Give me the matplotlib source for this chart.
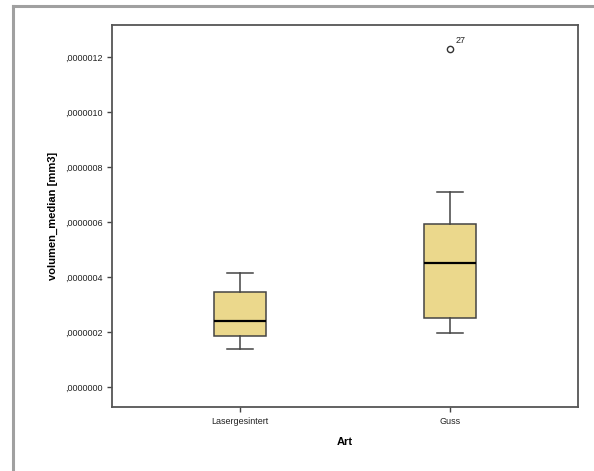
import matplotlib.pyplot as plt
from matplotlib.lines import Line2D

plt.rcParams['font.family'] = ['Liberation Sans', 'DejaVu Sans']

# values (in mm3)
categories = ["Lasergesintert", "Guss"]
whisker_low = [0.138e-6, 0.196e-6]
q1 = [0.1855e-6, 0.251e-6]
median = [0.240e-6, 0.451e-6]
q3 = [0.345e-6, 0.593e-6]
whisker_high = [0.4145e-6, 0.709e-6]
outliers = [[], [1.229e-6]]
outlier_ids = [[], ["27"]]

y_ticks = [0.0, 0.2e-6, 0.4e-6, 0.6e-6, 0.8e-6, 1.0e-6, 1.2e-6]
y_tick_labels = [",0000000", ",0000002", ",0000004", ",0000006", ",0000008", ",0000010", ",0000012"]

fig = plt.figure(figsize=(5.94, 4.71), dpi=100)
ax = fig.add_axes([112/594, 1 - 407/471, 466/594, 382/471])

stats = []
for i, name in enumerate(categories):
    stats.append({"label": name, "whislo": whisker_low[i], "q1": q1[i], "med": median[i],
                  "q3": q3[i], "whishi": whisker_high[i], "fliers": outliers[i]})

positions = list(range(1, len(categories) + 1))
ax.bxp(stats, positions=positions, widths=0.252, capwidths=0.124, patch_artist=True,
       boxprops=dict(facecolor="#ebd88c", edgecolor="#444444", linewidth=1.1),
       medianprops=dict(color="black", linewidth=1.6),
       whiskerprops=dict(color="#444444", linewidth=1.1),
       capprops=dict(color="#444444", linewidth=1.1),
       flierprops=dict(marker="o", markerfacecolor="white", markeredgecolor="#333333",
                       markersize=4.5, markeredgewidth=1.0))

for p, vals, ids in zip(positions, outliers, outlier_ids):
    for v, lab in zip(vals, ids):
        ax.annotate(lab, (p, v), xytext=(4, 4), textcoords="offset points",
                    fontsize=6.5, color="#222222")

ax.set_xlim(0.390, 2.610)
ax.set_ylim(-0.0727e-6, 1.3164e-6)
ax.set_yticks(y_ticks)
ax.set_yticklabels(y_tick_labels)
ax.set_xticks(positions)
ax.set_xticklabels(categories)
ax.tick_params(axis="both", labelsize=6.5, length=3.5, width=1, color="#444444",
               labelcolor="#222222")
for s in ax.spines.values():
    s.set_color("#555555")
    s.set_linewidth(1.3)

ax.set_xlabel("Art", fontsize=8, fontweight="bold", labelpad=8)
ax.set_ylabel("volumen_median [mm3]", fontsize=8, fontweight="bold", labelpad=5)

# outer gray chart frame (SPSS output frame, clipped at right and bottom)
fig.add_artist(Line2D([13/594, 13/594], [0, 1 - 6/471], color="#a0a0a0", linewidth=2.2))
fig.add_artist(Line2D([13/594, 1], [1 - 6/471, 1 - 6/471], color="#a0a0a0", linewidth=2.2))

fig.savefig("out.png", dpi=100)
